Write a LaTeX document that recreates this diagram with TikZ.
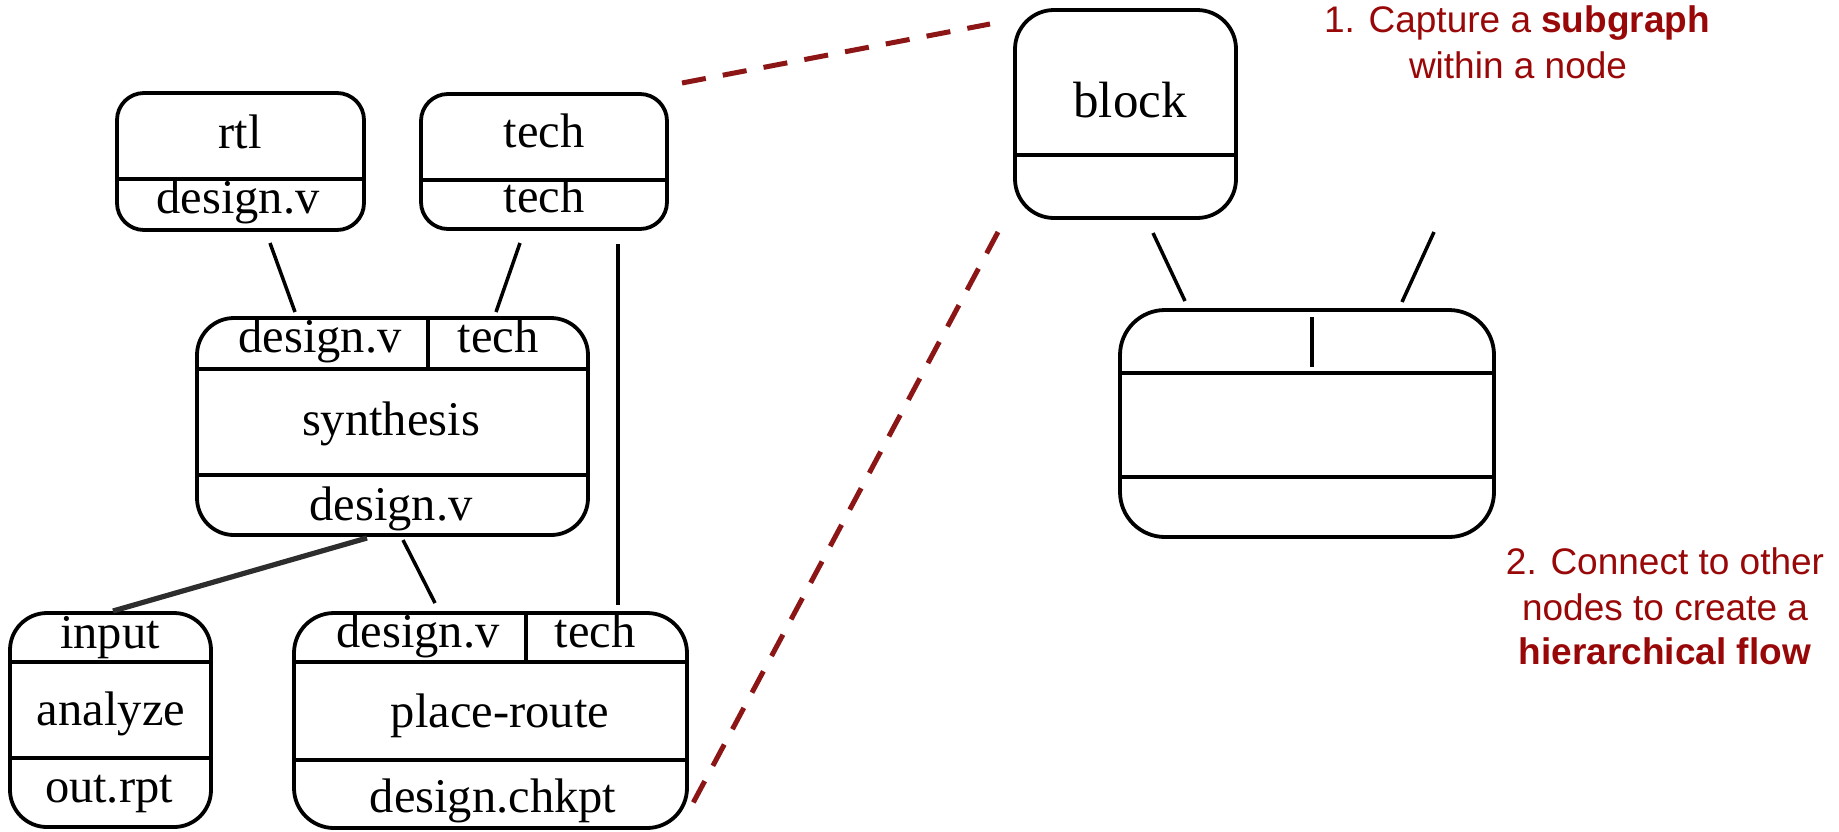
\documentclass[tikz,border=0pt]{standalone}
\usepackage{fontspec}
\setmainfont{Liberation Serif}
\newfontfamily\notefont{Liberation Sans}
\definecolor{notered}{RGB}{153,8,8}
\definecolor{zoomred}{RGB}{140,22,22}
\definecolor{wire}{RGB}{45,45,45}

% panel{name}{left}{top}{width pt}{height pt}{radius pt}
\newcommand\panel[6]{%
  \node[panel, rounded corners=#6, minimum width=#4, minimum height=#5,
        anchor=north west] (#1) at (#2,#3) {};}

\begin{document}
\begin{tikzpicture}[x=0.5pt, y=-0.5pt,
  panel/.style={draw=black, line width=1.9pt, inner sep=0pt, outer sep=0pt},
  rule/.style={line width=1.9pt},
  wirethin/.style={line width=1.75pt, black},
  wirethick/.style={line width=2.6pt, wire},
  zoomline/.style={zoomred, line width=2.5pt, dash pattern=on 12.1pt off 8.65pt},
  lbl/.style={font=\fontsize{24.25}{29}\selectfont, inner sep=0pt, anchor=base},
  big/.style={font=\fontsize{25.5}{30}\selectfont, inner sep=0pt, anchor=base},
  note/.style={font=\notefont\fontsize{18.5}{23}\selectfont, text=notered, inner sep=0pt, anchor=base}]
\useasboundingbox (0,0) rectangle (1839,831);

% ---------- flow on the left ----------
\panel{rtl}{117}{93}{123.5pt}{68.5pt}{13.5pt}
\draw[rule] (117,179) -- (364,179);
\node[lbl] (rtlname) at (240,148) {rtl};
\node[lbl] (rtlout) at (238,213) {design.v};

\panel{tech}{421}{94}{123pt}{67.5pt}{13.5pt}
\draw[rule] (421,180) -- (667,180);
\node[lbl] (techname) at (544,147) {tech};
\node[lbl] (techout) at (544,212) {tech};

\panel{syn}{197}{318}{195.5pt}{108.5pt}{18.5pt}
\draw[rule] (197,369) -- (588,369);
\draw[rule] (197,475) -- (588,475);
\draw[rule] (428,318) -- (428,369);
\node[lbl] (synin1) at (320,352) {design.v};
\node[lbl] (synin2) at (498,352) {tech};
\node[lbl] (synname) at (391,435) {synthesis};
\node[lbl] (synout) at (391,520) {design.v};

\panel{ana}{10}{613}{100.5pt}{107pt}{18.5pt}
\draw[rule] (10,662) -- (211,662);
\draw[rule] (10,758) -- (211,758);
\node[lbl] (anain) at (110,648) {input};
\node[lbl] (ananame) at (111,725) {analyze};
\node[lbl] (anaout) at (109,802) {out.rpt};

\panel{pr}{294}{613}{196.5pt}{107.5pt}{20pt}
\draw[rule] (294,662) -- (687,662);
\draw[rule] (294,760) -- (687,760);
\draw[rule] (526,613) -- (526,662);
\node[lbl] (prin1) at (418,647) {design.v};
\node[lbl] (prin2) at (595,647) {tech};
\node[lbl] (prname) at (500,727) {place-route};
\node[lbl] (prout) at (493,812) {design.chkpt};

% connector end points
\coordinate (rtlA) at (270,243);
\coordinate (synA) at (295,312);
\coordinate (techA) at (520,243);
\coordinate (synB) at (496,312);
\coordinate (techB) at (618,244);
\coordinate (prB) at (618,605);
\coordinate (synC) at (367,538);
\coordinate (anaA) at (113,611);
\coordinate (synD) at (403,540);
\coordinate (prA) at (435,603);

\draw[wirethin] (rtlA) -- (synA);
\draw[wirethin] (techA) -- (synB);
\draw[wirethin] (techB) -- (prB);
\draw[wirethick] (synC) -- (anaA);
\draw[wirethin] (synD) -- (prA);

% ---------- generic block on the right ----------
\panel{blk}{1015}{10}{110.5pt}{104pt}{19.5pt}
\draw[rule] (1015,155) -- (1236,155);
\node[big] (blkname) at (1130,117) {block};

\panel{gen}{1120}{310}{187pt}{113.5pt}{22.5pt}
\draw[rule] (1120,373) -- (1494,373);
\draw[rule] (1120,477) -- (1494,477);
\draw[rule] (1312,317) -- (1312,367);

\coordinate (blkA) at (1153,233);
\coordinate (genA) at (1185,301);
\coordinate (blkB) at (1434,232);
\coordinate (genB) at (1402,302);
\draw[wirethin] (blkA) -- (genA);
\draw[wirethin] (blkB) -- (genB);

% zoom lines from the flow to the block
\coordinate (techZ) at (682,83);
\coordinate (blkZ) at (990,24);
\coordinate (blkY) at (998,232);
\coordinate (prZ) at (693,803);
\draw[zoomline] (techZ) -- (blkZ);
\draw[zoomline] (blkY) -- (prZ);

% ---------- notes ----------
\node[note] (cap1) at (1517,32) {1. Capture a \textbf{subgraph}};
\node[note] (cap2) at (1518,78) {within a node};
\node[note] (con1) at (1665,574) {2. Connect to other};
\node[note] (con2) at (1665,620) {nodes to create a};
\node[note] (con3) at (1665,664) {\textbf{hierarchical flow}};
\end{tikzpicture}
\end{document}
